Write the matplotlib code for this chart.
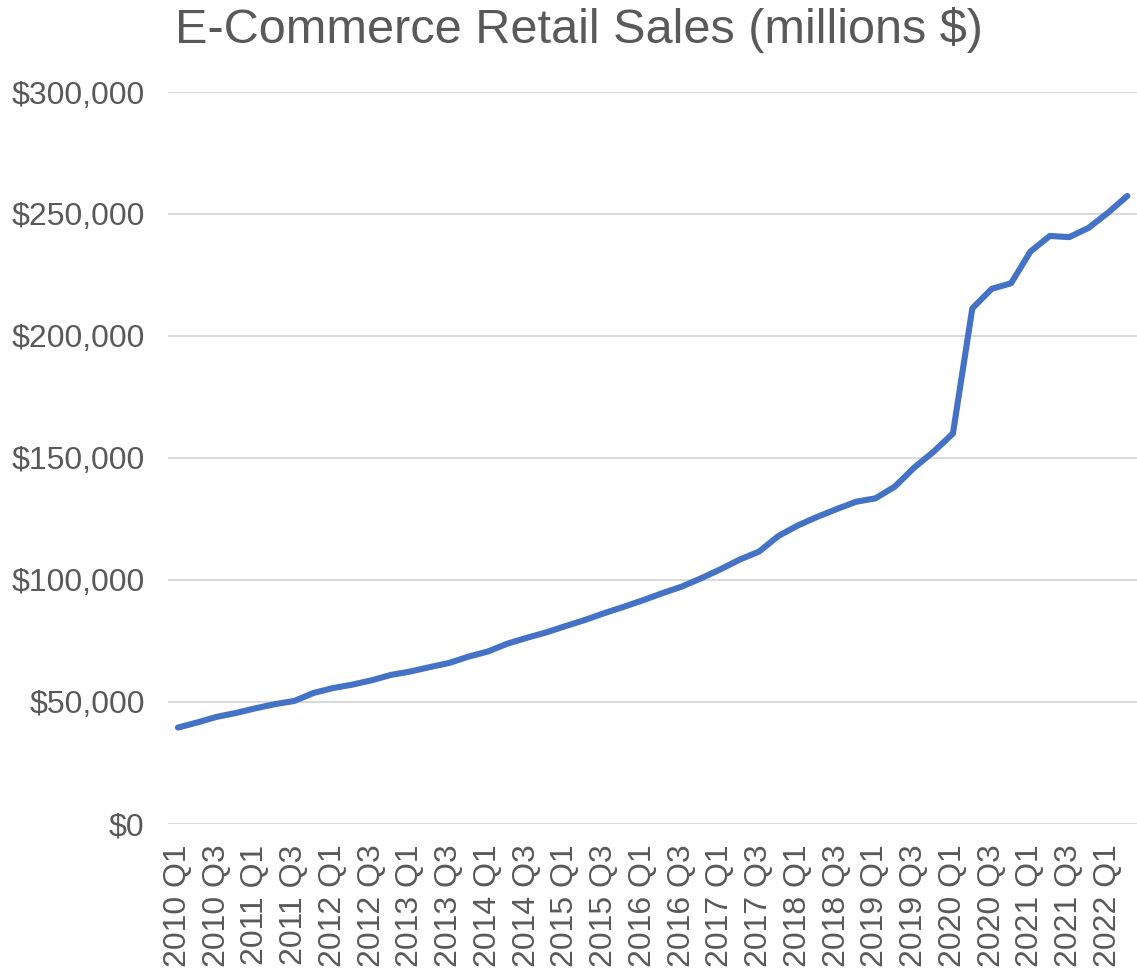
import numpy as np
import matplotlib.pyplot as plt
from matplotlib.ticker import FuncFormatter

plt.rcParams['font.family'] = ['Liberation Sans', 'DejaVu Sans']

# quarterly e-commerce retail sales, millions of dollars
years = list(range(2010, 2023))
quarters = [f"{y} Q{q}" for y in years for q in range(1, 5)][:50]
sales = [
    39400, 41500, 43800, 45400, 47300, 49000, 50300, 53600,
    55600, 57000, 58800, 61000, 62400, 64200, 65900, 68500,
    70600, 73800, 76200, 78400, 81000, 83500, 86300, 88900,
    91600, 94500, 97200, 100600, 104300, 108300, 111600, 118000,
    122300, 125800, 129000, 132000, 133400, 138200, 146000, 152500,
    160000, 211300, 219300, 221600, 234600, 241000, 240500, 244300,
    250500, 257400,
]
y_ticks = [0, 50000, 100000, 150000, 200000, 250000, 300000]

text_color = '#595959'
line_color = '#4472C4'
grid_color = '#D9D9D9'

fig = plt.figure(figsize=(11.37, 9.69), dpi=100)
ax = fig.add_axes([0.148, 0.150, 0.852, 0.755])

x = np.arange(len(sales))
ax.plot(x, sales, color=line_color, lw=4.4, solid_capstyle='round',
        solid_joinstyle='round')

ax.set_xlim(-0.5, len(sales) - 0.5)
ax.set_ylim(0, 300000)
ax.set_yticks(y_ticks)
ax.yaxis.set_major_formatter(FuncFormatter(lambda v, p: f"${v:,.0f}"))
ax.set_xticks(x[::2])
ax.set_xticklabels(quarters[::2], rotation=90)

ax.grid(axis='y', color=grid_color, lw=1.4)
ax.set_axisbelow(True)
for s in ax.spines.values():
    s.set_visible(False)
ax.tick_params(axis='both', length=0, labelsize=23, labelcolor=text_color)
ax.tick_params(axis='y', pad=17)
ax.tick_params(axis='x', pad=15)

fig.text(0.154, 0.956, 'E-Commerce Retail Sales (millions $)', ha='left',
         va='baseline', fontsize=35, color=text_color)

fig.savefig('out.png', dpi=100)
